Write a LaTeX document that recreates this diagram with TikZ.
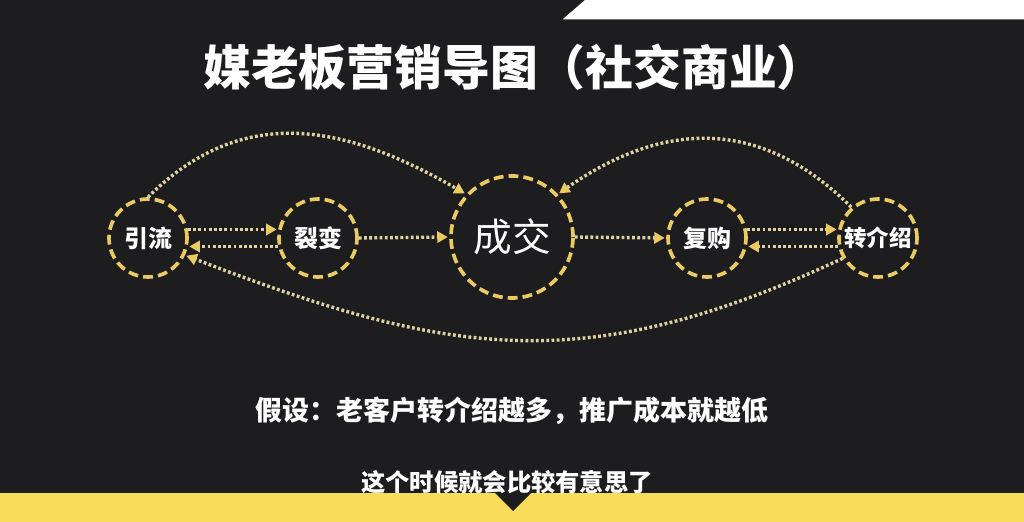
\documentclass[tikz,border=0pt]{standalone}
\usepackage{fontspec}
\usetikzlibrary{arrows.meta}
\newfontfamily\cjk{Noto Sans CJK SC}
\definecolor{bgdark}{HTML}{1D1C1E}
\definecolor{ringyel}{HTML}{EACB62}
\definecolor{dotyel}{HTML}{DDD2A2}
\definecolor{baryel}{HTML}{F8DC5A}
\tikzset{
	ring/.style={circle, draw=ringyel, line width=2.6pt, dash pattern=on 7pt off 3.6pt, minimum size=1.95cm, inner sep=0pt, text=white, font=\cjk\bfseries\fontsize{17}{20}\selectfont},
	flow/.style={draw=dotyel, line width=2.4pt, dash pattern=on 2pt off 1.7pt, -{Triangle[length=7.5pt,width=8pt,color=ringyel]}, shorten >=1pt},
	caption/.style={text=white, font=\cjk\bfseries}
}

\begin{document}
\begin{tikzpicture}
		%%%%% START %%%%%
		\useasboundingbox (0, 0) rectangle (25.6, 13.05);
		\fill[bgdark] (0, 0) rectangle (25.6, 13.05);
		
		\fill[white] (14.075, 12.575) -- (14.625, 13.05) -- (25.6, 13.05) -- (25.6, 12.575) -- cycle;
		\draw[black!55, line width=0.6pt] (14.075, 12.575) -- (25.6, 12.575);
		\fill[baryel] (0, 0) rectangle (25.6, 0.725);
		\fill[bgdark] (12.375, 0.725) -- (13.275, 0.725) -- (12.825, 0.275) -- cycle;
		
		\node[caption] (title) at (12.85, 11.37) {\fontsize{34}{38}\selectfont 媒老板营销导图（社交商业）};
		
		\node[ring] (yinliu) at (3.7, 7.1) {引流};
		\node[ring] (liebian) at (7.95, 7.1) {裂变};
		\node[ring, minimum size=3.05cm, font=\cjk\fontsize{27.5}{30}\selectfont] (chengjiao) at (12.8, 7.125) {成交};
		\node[ring] (fugou) at (17.675, 7.1) {复购};
		\node[ring, font=\cjk\bfseries\fontsize{16}{20}\selectfont] (zhuanjs) at (21.95, 7.1) {转介绍};
		
		\draw[flow] (yinliu.12) -- (liebian.168);
		\draw[flow] (liebian.192) -- (yinliu.348);
		\draw[flow] (liebian.east) -- (chengjiao.west);
		\draw[flow] (chengjiao.east) -- (fugou.west);
		\draw[flow] (fugou.12) -- (zhuanjs.168);
		\draw[flow] (zhuanjs.192) -- (fugou.348);
		
		\draw[flow] (yinliu.90) .. controls +(45:3.4) and +(150:3.4) .. (chengjiao.137);
		\draw[flow] (zhuanjs.131) .. controls +(135:3.2) and +(35:3.2) .. (chengjiao.43);
		\draw[flow] (zhuanjs.210) .. controls +(205:7.1) and +(-21:7.1) .. (yinliu.335);
		
		\node[caption] (note) at (12.8, 2.775) {\fontsize{19.2}{23}\selectfont 假设：老客户转介绍越多，推广成本就越低};
		\node[caption] (subtitle) at (12.675, 1.0) {\fontsize{17.3}{20}\selectfont 这个时候就会比较有意思了};
		
		%%%%% END %%%%%
	\end{tikzpicture}
\end{document}
